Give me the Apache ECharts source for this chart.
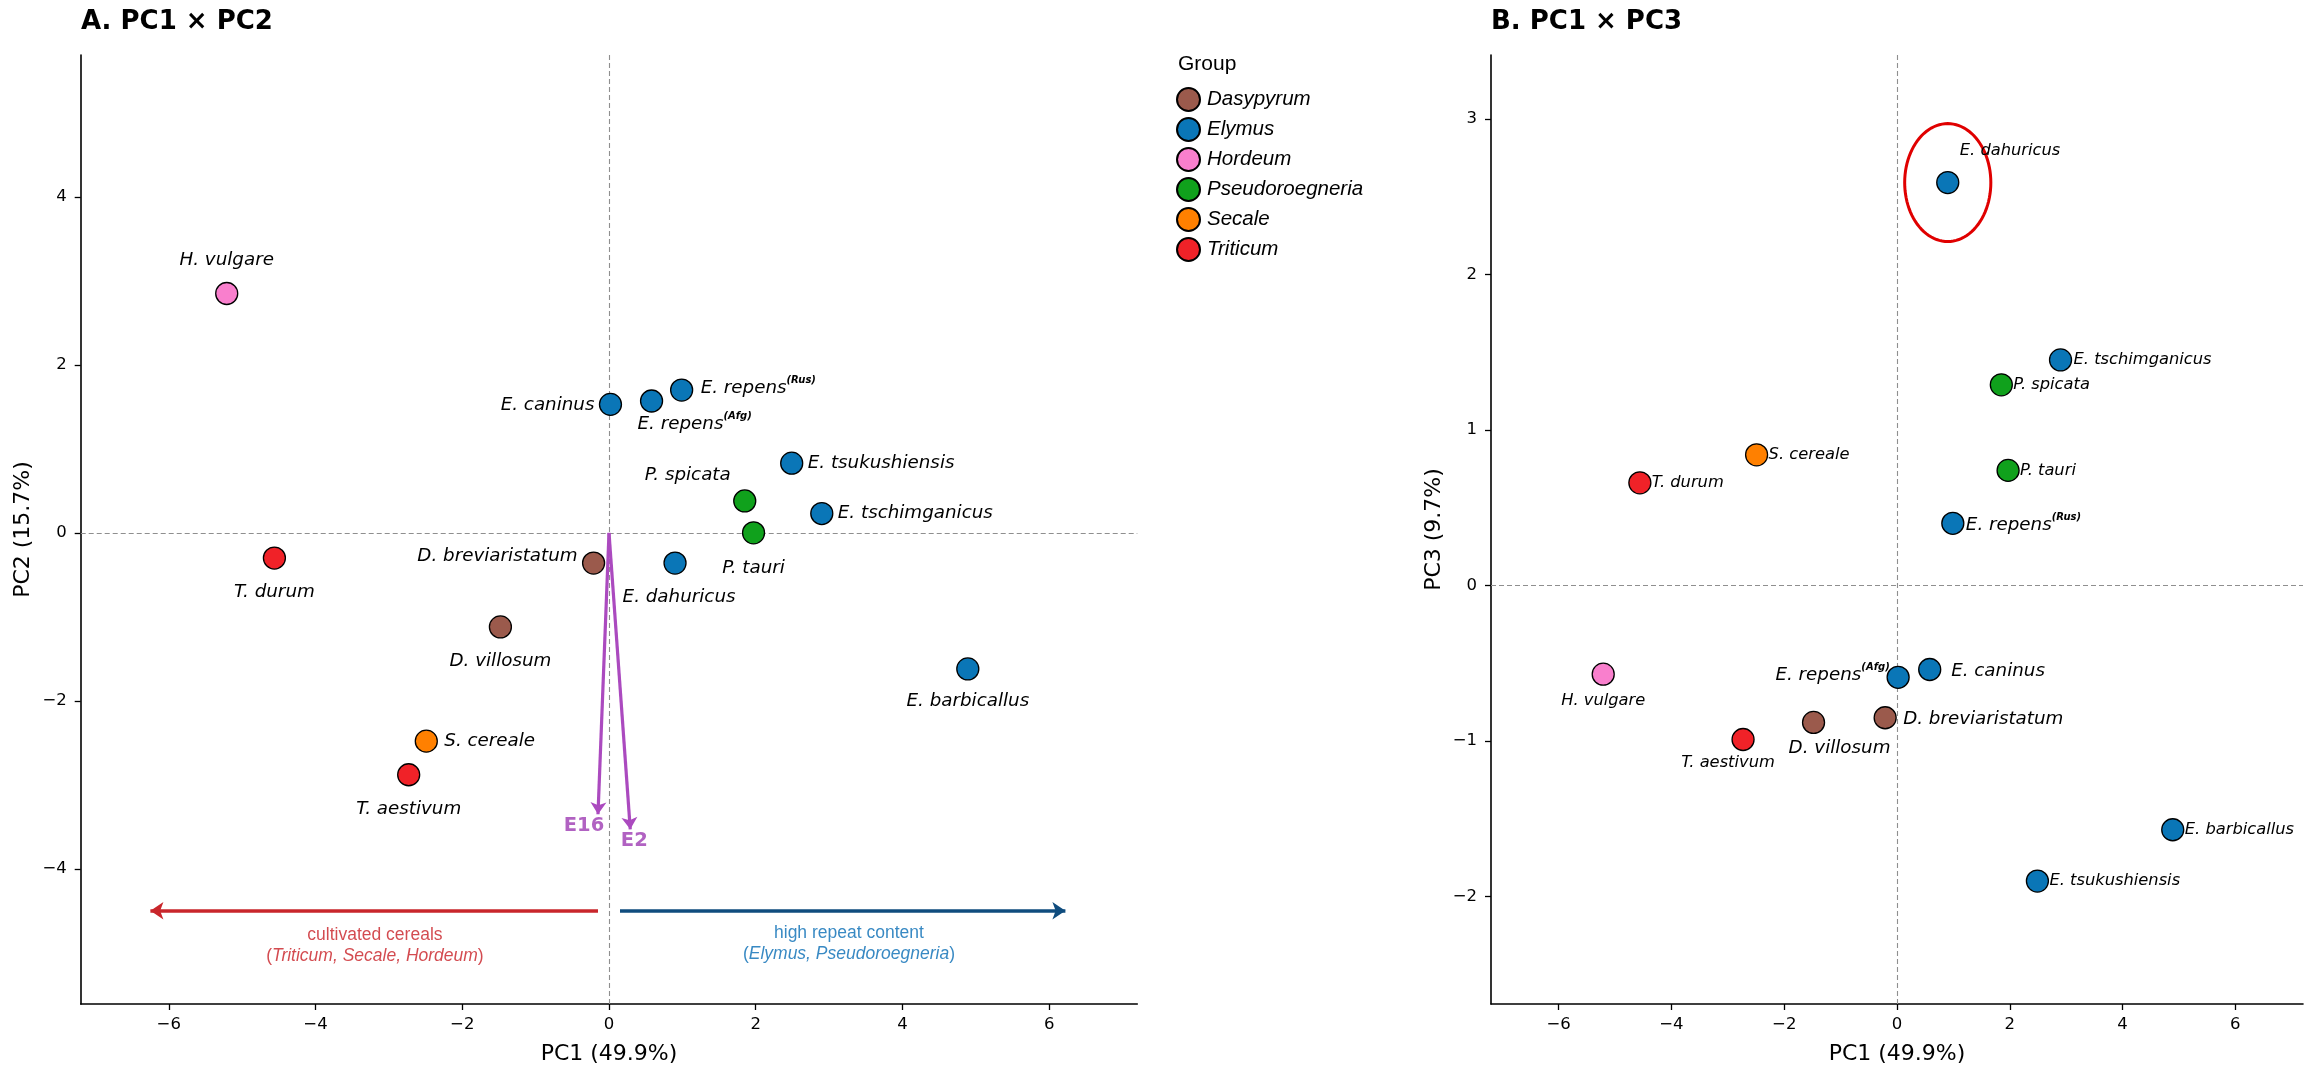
<!DOCTYPE html>
<html><head><meta charset="utf-8">
<script src="https://cdn.jsdelivr.net/npm/echarts@6/dist/echarts.min.js"></script>
<style>html,body{margin:0;padding:0;background:#fff}#c{width:2315px;height:1073px}</style>
</head><body><div id="c"></div>
<script>
// ---------- data ----------
const groups = ['Dasypyrum', 'Elymus', 'Hordeum', 'Pseudoroegneria', 'Secale', 'Triticum'];
const species = ['H. vulgare', 'E. caninus', 'E. repens (Afg)', 'E. repens (Rus)', 'E. tsukushiensis',
  'P. spicata', 'P. tauri', 'E. tschimganicus', 'D. breviaristatum', 'E. dahuricus',
  'E. barbicallus', 'T. durum', 'D. villosum', 'S. cereale', 'T. aestivum'];
const speciesGroup = ['Hordeum', 'Elymus', 'Elymus', 'Elymus', 'Elymus',
  'Pseudoroegneria', 'Pseudoroegneria', 'Elymus', 'Dasypyrum', 'Elymus',
  'Elymus', 'Triticum', 'Dasypyrum', 'Secale', 'Triticum'];
const pc1 = [-5.21, 0.02, 0.58, 0.99, 2.49, 1.85, 1.97, 2.90, -0.21, 0.90, 4.89, -4.56, -1.48, -2.49, -2.73];
const pc2 = [2.85, 1.53, 1.57, 1.70, 0.83, 0.38, 0.00, 0.23, -0.36, -0.36, -1.62, -0.30, -1.12, -2.48, -2.88];
const pc3 = [-0.57, -0.59, -0.54, 0.40, -1.90, 1.29, 0.74, 1.45, -0.85, 2.59, -1.57, 0.66, -0.88, 0.84, -0.99];

const loadingNames = ['E16', 'E2'];
const loadingPC1 = [-0.15, 0.29];
const loadingPC2 = [-3.35, -3.53];

const xTicks = [-6, -4, -2, 0, 2, 4, 6];
const yTicksA = [-4, -2, 0, 2, 4];
const yTicksB = [-2, -1, 0, 1, 2, 3];

const directionY = -4.5;
const cerealArrow = [-0.15, -6.25];
const repeatArrow = [0.15, 6.22];
const directionTextX = [-3.19, 3.27];
const directionTextY = [-4.91, -4.89];

const highlightSpecies = 'E. dahuricus';
const highlightRadii = [0.764, 0.379];

// ---------- styles ----------
const groupColors = {
  Dasypyrum: '#9b5a4c', Elymus: '#0a76b7', Hordeum: '#f97fcd',
  Pseudoroegneria: '#10a11c', Secale: '#ff8000', Triticum: '#f02228'
};
const BIG = 18.3, SMALL = 16.3;
// [dx, dy, align, fontSize] relative to marker centre (px)
const layoutA = {
  'H. vulgare': [0, -33, 'center', BIG],
  'E. caninus': [-16, 1, 'right', BIG],
  'E. repens (Afg)': [-14, 23, 'left', BIG],
  'E. repens (Rus)': [19, -2, 'left', BIG],
  'E. tsukushiensis': [16, 0, 'left', BIG],
  'P. spicata': [-14, -26, 'right', BIG],
  'P. tauri': [0, 35, 'center', BIG],
  'E. tschimganicus': [16, 0, 'left', BIG],
  'D. breviaristatum': [-16, -7, 'right', BIG],
  'E. dahuricus': [4, 34, 'center', BIG],
  'E. barbicallus': [0, 32, 'center', BIG],
  'T. durum': [0, 34, 'center', BIG],
  'D. villosum': [0, 34, 'center', BIG],
  'S. cereale': [18, 0, 'left', BIG],
  'T. aestivum': [0, 35, 'center', BIG]
};
const layoutB = {
  'E. dahuricus': [12, -32, 'left', SMALL],
  'E. tschimganicus': [13, 0, 'left', SMALL],
  'P. spicata': [12, 0, 'left', SMALL],
  'S. cereale': [12, 0, 'left', SMALL],
  'T. durum': [12, 0, 'left', SMALL],
  'P. tauri': [12, 0, 'left', SMALL],
  'E. repens (Rus)': [13, 2, 'left', BIG],
  'H. vulgare': [0, 27, 'center', SMALL],
  'E. repens (Afg)': [-40, 6, 'right', BIG],
  'E. caninus': [53, -6, 'left', BIG],
  'D. breviaristatum': [18, 2, 'left', BIG],
  'D. villosum': [26, 26, 'center', BIG],
  'T. aestivum': [-15, 23, 'center', SMALL],
  'E. barbicallus': [12, 0, 'left', SMALL],
  'E. tsukushiensis': [12, 0, 'left', SMALL]
};

const FONT = 'DejaVu Sans';
const ARIAL = 'Liberation Sans, Arial, sans-serif';
const PURPLE = '#ab4abf';
const PURPLE_TEXT = '#9e3bb3';

function labelText(name) {
  const m = name.match(/^(.*) (\(.*\))$/);
  if (m) return '{n|' + m[1] + '}{s|' + m[2] + '}';
  return '{p|' + name + '}';
}
function makeLabel(name, lay) {
  const [dx, dy, align, fs] = lay;
  return {
    show: true, position: 'inside', offset: [dx, dy], align: align, verticalAlign: 'middle',
    formatter: labelText(name), color: '#000', textBorderWidth: 0,
    rich: {
      p: { fontFamily: FONT, fontStyle: 'italic', fontSize: fs, color: '#000' },
      n: { fontFamily: FONT, fontStyle: 'italic', fontSize: fs, color: '#000', lineHeight: 26 },
      s: { fontFamily: FONT, fontStyle: 'italic', fontWeight: 'bold', fontSize: 10, color: '#000', lineHeight: 12, verticalAlign: 'top' }
    }
  };
}
const tickFmt = v => (v < 0 ? '\u2212' + Math.abs(v) : String(v));

function xAxisCfg(idx) {
  return {
    type: 'value', gridIndex: idx, min: -7.2, max: 7.2,
    name: 'PC1 (49.9%)', nameLocation: 'middle', nameGap: 39,
    nameTextStyle: { fontFamily: FONT, fontSize: 22, color: '#000' },
    axisLine: { show: true, onZero: false, lineStyle: { color: '#000', width: 1.6 } },
    axisTick: { show: true, length: 6, customValues: xTicks, lineStyle: { color: '#000', width: 1.3 } },
    axisLabel: { customValues: xTicks, formatter: tickFmt, fontFamily: FONT, fontSize: 16.5, color: '#000', margin: 12 },
    splitLine: { show: false }
  };
}
function yAxisCfg(idx, min, max, ticks, name) {
  return {
    type: 'value', gridIndex: idx, min: min, max: max,
    name: name, nameLocation: 'middle', nameGap: 46,
    nameTextStyle: { fontFamily: FONT, fontSize: 22, color: '#000' },
    axisLine: { show: true, onZero: false, lineStyle: { color: '#000', width: 1.6 } },
    axisTick: { show: true, length: 6, customValues: ticks, lineStyle: { color: '#000', width: 1.3 } },
    axisLabel: { customValues: ticks, formatter: tickFmt, fontFamily: FONT, fontSize: 16.5, color: '#000', margin: 14 },
    splitLine: { show: false }
  };
}

const series = [];
// zero guide lines
[0, 1].forEach(p => {
  series.push({
    type: 'line', xAxisIndex: p, yAxisIndex: p, data: [], silent: true, z: 1,
    markLine: {
      silent: true, symbol: ['none', 'none'], label: { show: false }, emphasis: { disabled: true },
      lineStyle: { type: [5, 3], color: '#8f8f8f', width: 1.1 },
      data: [{ xAxis: 0 }, { yAxis: 0 }]
    }
  });
});
// group scatter series
[0, 1].forEach(p => {
  groups.forEach(g => {
    const data = [];
    species.forEach((s, i) => {
      if (speciesGroup[i] !== g) return;
      data.push({
        name: s,
        value: [pc1[i], p === 0 ? pc2[i] : pc3[i]],
        label: makeLabel(s, (p === 0 ? layoutA : layoutB)[s])
      });
    });
    series.push({
      type: 'scatter', name: g, xAxisIndex: p, yAxisIndex: p, z: 5,
      symbol: 'circle', symbolSize: 22,
      itemStyle: { color: groupColors[g], borderColor: '#000', borderWidth: 1.3, opacity: 1 },
      emphasis: { disabled: true },
      data: data
    });
  });
});
// loading arrows (panel A)
series.push({
  type: 'scatter', xAxisIndex: 0, yAxisIndex: 0, z: 4, symbolSize: 0, silent: true,
  data: loadingNames.map((n, i) => ({
    name: n, value: [loadingPC1[i], loadingPC2[i]],
    label: {
      show: true, position: 'inside', offset: i === 0 ? [-14, 12] : [4, 12],
      formatter: n, color: PURPLE_TEXT, fontFamily: FONT, fontWeight: 'bold', fontSize: 19.5, textBorderWidth: 0
    }
  })),
  markLine: {
    silent: true, symbol: ['none', 'arrow'], symbolSize: 12, label: { show: false }, emphasis: { disabled: true },
    lineStyle: { type: 'solid', color: PURPLE, width: 3.2, opacity: 1 },
    data: loadingNames.map((n, i) => [{ coord: [0, 0] }, { coord: [loadingPC1[i], loadingPC2[i]] }])
  }
});
// direction arrows
series.push({
  type: 'line', xAxisIndex: 0, yAxisIndex: 0, data: [], silent: true, z: 3,
  markLine: {
    silent: true, symbol: ['none', 'arrow'], symbolSize: 13, label: { show: false }, emphasis: { disabled: true },
    lineStyle: { type: 'solid', color: '#c9262b', width: 3.6, opacity: 1 },
    data: [[{ coord: [cerealArrow[0], directionY] }, { coord: [cerealArrow[1], directionY] }]]
  }
});
series.push({
  type: 'line', xAxisIndex: 0, yAxisIndex: 0, data: [], silent: true, z: 3,
  markLine: {
    silent: true, symbol: ['none', 'arrow'], symbolSize: 13, label: { show: false }, emphasis: { disabled: true },
    lineStyle: { type: 'solid', color: '#0f4c7e', width: 3.6, opacity: 1 },
    data: [[{ coord: [repeatArrow[0], directionY] }, { coord: [repeatArrow[1], directionY] }]]
  }
});
// direction texts
const RED_TXT = '#c81e24', BLUE_TXT = '#066cb4';
series.push({
  type: 'scatter', xAxisIndex: 0, yAxisIndex: 0, z: 3, symbolSize: 0, silent: true,
  data: [
    {
      value: [directionTextX[0], directionTextY[0]],
      label: {
        show: true, position: 'inside', align: 'center', verticalAlign: 'middle', textBorderWidth: 0,
        formatter: '{a|cultivated cereals}\n{a|(}{b|Triticum, Secale, Hordeum}{a|)}',
        rich: {
          a: { fontFamily: ARIAL, fontSize: 17.5, color: RED_TXT, lineHeight: 21 },
          b: { fontFamily: ARIAL, fontSize: 17.5, color: RED_TXT, fontStyle: 'italic', lineHeight: 21 }
        }
      }
    },
    {
      value: [directionTextX[1], directionTextY[1]],
      label: {
        show: true, position: 'inside', align: 'center', verticalAlign: 'middle', textBorderWidth: 0,
        formatter: '{a|high repeat content}\n{a|(}{b|Elymus, Pseudoroegneria}{a|)}',
        rich: {
          a: { fontFamily: ARIAL, fontSize: 17.5, color: BLUE_TXT, lineHeight: 21 },
          b: { fontFamily: ARIAL, fontSize: 17.5, color: BLUE_TXT, fontStyle: 'italic', lineHeight: 21 }
        }
      }
    }
  ]
});
// highlight ellipse (panel B)
const hi = species.indexOf(highlightSpecies);
series.push({
  type: 'custom', xAxisIndex: 1, yAxisIndex: 1, z: 4, silent: true,
  data: [[pc1[hi], pc3[hi]]],
  renderItem: function (params, api) {
    const c = api.coord([api.value(0), api.value(1)]);
    const s = api.size([highlightRadii[0], highlightRadii[1]]);
    const pts = [];
    for (let k = 0; k <= 96; k++) {
      const t = k / 96 * Math.PI * 2;
      pts.push([c[0] + s[0] * Math.cos(t), c[1] + s[1] * Math.sin(t)]);
    }
    return { type: 'polyline', shape: { points: pts }, style: { fill: 'none', stroke: '#e00000', lineWidth: 3 } };
  }
});

const option = {
  backgroundColor: '#fff',
  animation: false,
  title: [
    { text: 'A. PC1 \u00d7 PC2', left: 81, top: 9, padding: 0, textStyle: { fontFamily: FONT, fontWeight: 'bold', fontSize: 26, color: '#000' } },
    { text: 'B. PC1 \u00d7 PC3', left: 1491, top: 9, padding: 0, textStyle: { fontFamily: FONT, fontWeight: 'bold', fontSize: 26, color: '#000' } },
    { text: 'Group', left: 1178, top: 54, padding: 0, textStyle: { fontFamily: ARIAL, fontWeight: 'normal', fontSize: 21, color: '#000' } }
  ],
  legend: {
    data: groups, orient: 'vertical', left: 1176, top: 87, padding: 0,
    itemWidth: 23, itemHeight: 23, itemGap: 5, icon: 'circle', selectedMode: false,
    textStyle: { fontFamily: ARIAL, fontStyle: 'italic', fontSize: 20.5, color: '#000', padding: [0, 0, 0, 2] }
  },
  grid: [
    { left: 80.7, top: 55, width: 1056.6, height: 949 },
    { left: 1491, top: 55, width: 812, height: 949 }
  ],
  xAxis: [xAxisCfg(0), xAxisCfg(1)],
  yAxis: [
    yAxisCfg(0, -5.61, 5.69, yTicksA, 'PC2 (15.7%)'),
    yAxisCfg(1, -2.69, 3.41, yTicksB, 'PC3 (9.7%)')
  ],
  series: series
};
const chart = echarts.init(document.getElementById('c'), null, { renderer: 'canvas' });
chart.setOption(option);
</script>
</body></html>
